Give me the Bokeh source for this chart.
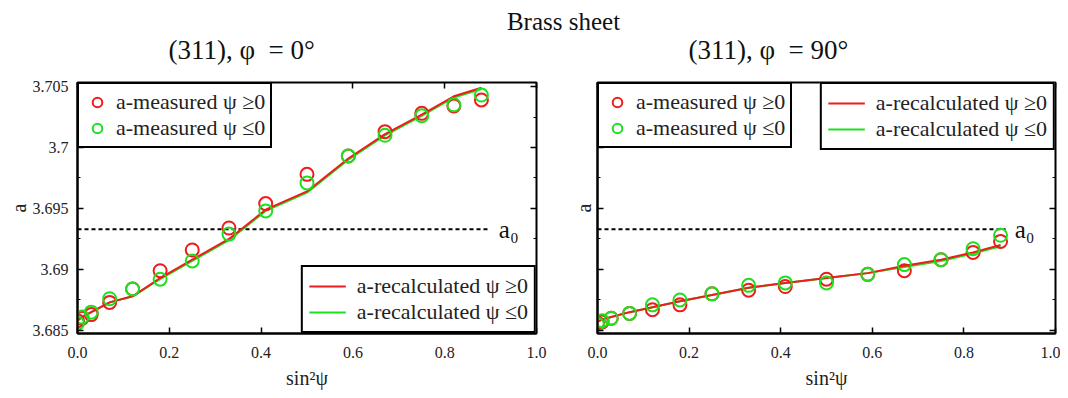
from bokeh.plotting import figure
from bokeh.models import (Legend, LegendItem, Label, Range1d, LinearAxis,
                          SingleIntervalTicker, CustomJSTickFormatter, ColumnDataSource)
from bokeh.core.properties import value
from bokeh.layouts import column, row
from bokeh.embed import file_html
from bokeh.resources import INLINE

# ---------------- data ----------------
main_title = ["Brass sheet"]
panel_titles = ["(311), φ\u00a0 = 0°", "(311), φ\u00a0 = 90°"]
x_label = "sin²ψ"
y_label = "a"
a0_label = "a₀"
a0 = 3.6933
a0_x_end = [0.898, 0.891]

sin2psi = [0.0, 0.01, 0.03, 0.07, 0.12, 0.18, 0.25, 0.33, 0.41, 0.50, 0.59, 0.67, 0.75, 0.82, 0.88]

# phi = 0
meas_pos_0 = [3.6858, 3.6860, 3.6863, 3.6873, 3.6884, 3.6899, 3.6916, 3.6934, 3.6954, 3.6978, 3.6993, 3.7013, 3.7028, 3.7034, 3.7039]
meas_neg_0 = [3.6856, 3.6861, 3.6865, 3.6876, 3.6884, 3.6892, 3.6907, 3.6929, 3.6948, 3.6971, 3.6993, 3.7010, 3.7026, 3.7035, 3.7043]
rec_pos_0 = [3.6858, 3.6861, 3.6865, 3.6873, 3.6878, 3.6893, 3.6908, 3.6925, 3.6949, 3.6964, 3.6991, 3.7011, 3.7027, 3.7042, 3.7049]
rec_neg_0 = [3.6858, 3.6861, 3.6865, 3.6873, 3.6878, 3.6892, 3.6907, 3.6924, 3.6948, 3.6963, 3.6990, 3.7010, 3.7026, 3.7041, 3.7048]

# phi = 90
meas_pos_90 = [3.6856, 3.6857, 3.6860, 3.6864, 3.6867, 3.6871, 3.6880, 3.6883, 3.6886, 3.6892, 3.6896, 3.6899, 3.6908, 3.6914, 3.6923]
meas_neg_90 = [3.6855, 3.6858, 3.6860, 3.6864, 3.6871, 3.6875, 3.6880, 3.6887, 3.6889, 3.6889, 3.6896, 3.6904, 3.6908, 3.6917, 3.6928]
rec_pos_90 = [3.6857, 3.6859, 3.6861, 3.6865, 3.6869, 3.6874, 3.6879, 3.6885, 3.6889, 3.6893, 3.6897, 3.6903, 3.6908, 3.6914, 3.6920]
rec_neg_90 = [3.6857, 3.6859, 3.6861, 3.6865, 3.6869, 3.6874, 3.6879, 3.6885, 3.6889, 3.6893, 3.6897, 3.6902, 3.6907, 3.6913, 3.6919]

leg_meas = ["a-measured ψ ≥0", "a-measured ψ ≤0"]
leg_rec = ["a-recalculated ψ ≥0", "a-recalculated ψ ≤0"]

RED = "#ee1c1c"
GREEN = "#1ee01e"
FONT = "Liberation Serif"

Y_RANGE = (3.68475, 3.70533)

EMPTY = CustomJSTickFormatter(code="return '';")

# header strip geometry (pixels of the header figure)
HEAD_W, HEAD_H = 1060, 68
MAIN_POS = ([563], [47.5])
SUB_POS = ([168, 688], [19, 19])


def make_panel(mp, mn, rp, rn, a0_end, show_ylabels, width, bl, br, layout_kind):
    p = figure(width=width, height=328, output_backend="svg", toolbar_location=None,
               x_range=Range1d(0, 1.0), y_range=Range1d(*Y_RANGE), title=None,
               min_border_left=bl, min_border_right=br, min_border_top=14, min_border_bottom=63)

    p.xgrid.visible = False
    p.ygrid.visible = False
    p.outline_line_color = "black"
    p.outline_line_width = 2
    p.background_fill_color = "white"
    p.border_fill_color = "white"

    p.xaxis.ticker = SingleIntervalTicker(interval=0.2, num_minor_ticks=0)
    p.yaxis.ticker = SingleIntervalTicker(interval=0.005, num_minor_ticks=2)
    p.xaxis.formatter = CustomJSTickFormatter(code="return tick.toFixed(1);")
    p.yaxis.formatter = CustomJSTickFormatter(code="return tick.toFixed(3).replace(/0+$/, '');")

    for ax in (p.xaxis, p.yaxis):
        ax.major_tick_in = 6
        ax.major_tick_out = 0
        ax.minor_tick_in = 3
        ax.minor_tick_out = 0
        ax.axis_line_width = 2
        ax.major_tick_line_width = 1.5
        ax.major_label_text_font = FONT
        ax.major_label_text_font_size = "16px"
        ax.major_label_text_color = "#222222"
        ax.axis_label_text_font = FONT
        ax.axis_label_text_font_style = "normal"
        ax.axis_label_text_color = "#222222"
        ax.axis_label_text_font_size = "20px"
    p.xaxis.axis_label = x_label
    p.yaxis.axis_label = y_label
    p.xaxis.major_label_standoff = 13
    p.xaxis.axis_label_standoff = 6
    if show_ylabels:
        p.yaxis.major_label_standoff = 9
        p.yaxis.axis_label_standoff = 0
    else:
        p.yaxis.formatter = EMPTY
        p.yaxis.major_label_text_font_size = "1px"
        p.yaxis.major_label_standoff = 0
        p.yaxis.axis_label_standoff = 3

    # mirror ticks on top / right
    top = LinearAxis(ticker=SingleIntervalTicker(interval=0.2, num_minor_ticks=0),
                     formatter=EMPTY, major_label_text_font_size="1px", major_label_standoff=0,
                     major_tick_in=6, major_tick_out=0, axis_line_color=None,
                     major_tick_line_width=1.5)
    right = LinearAxis(ticker=SingleIntervalTicker(interval=0.005, num_minor_ticks=2),
                       formatter=EMPTY, major_label_text_font_size="1px", major_label_standoff=0,
                       major_tick_in=6, major_tick_out=0, minor_tick_in=3, minor_tick_out=0,
                       axis_line_color=None, major_tick_line_width=1.5)
    p.add_layout(top, "above")
    p.add_layout(right, "right")

    src = ColumnDataSource(dict(x=sin2psi, mp=mp, mn=mn, rp=rp, rn=rn))

    # a0 reference
    p.segment(x0=[0], y0=[a0], x1=[a0_end], y1=[a0], line_color="black",
              line_width=2, line_dash="4 3")
    p.add_layout(Label(x=a0_end + 0.02, y=a0, text=a0_label, text_baseline="middle",
                       text_font=FONT, text_font_size="25px", text_color="#111111"))

    lg = p.line("x", "rn", source=src, line_color=GREEN, line_width=2)
    lr = p.line("x", "rp", source=src, line_color=RED, line_width=2)
    cr = p.scatter("x", "mp", source=src, marker="circle", size=13, fill_color=None,
                   line_color=RED, line_width=2)
    cg = p.scatter("x", "mn", source=src, marker="circle", size=13, fill_color=None,
                   line_color=GREEN, line_width=2)

    def style(lgd, pad, gw, st):
        lgd.margin = 0
        lgd.padding = pad
        lgd.spacing = 0
        lgd.label_height = 24
        lgd.glyph_height = 24
        lgd.glyph_width = gw
        lgd.label_standoff = st
        lgd.border_line_color = "black"
        lgd.border_line_alpha = 1
        lgd.border_line_width = 2
        lgd.background_fill_alpha = 1
        lgd.label_text_font = FONT
        lgd.label_text_font_size = "22px"
        lgd.label_text_color = "#222222"

    leg1 = Legend(items=[LegendItem(label=leg_meas[0], renderers=[cr]),
                         LegendItem(label=leg_meas[1], renderers=[cg])],
                  location="top_left")
    style(leg1, 5, 26, 6)
    leg2 = Legend(items=[LegendItem(label=leg_rec[0], renderers=[lr]),
                         LegendItem(label=leg_rec[1], renderers=[lg])],
                  location=layout_kind)
    style(leg2, 6, 37, 11)
    p.add_layout(leg1)
    p.add_layout(leg2)
    return p


p1 = make_panel(meas_pos_0, meas_neg_0, rec_pos_0, rec_neg_0,
                a0_x_end[0], True, 564, 77, 28, "bottom_right")
p2 = make_panel(meas_pos_90, meas_neg_90, rec_pos_90, rec_neg_90,
                a0_x_end[1], False, 496, 33, 5, "top_right")

# header strip with the overall title and the two panel titles
p0 = figure(width=HEAD_W, height=HEAD_H, output_backend="svg", toolbar_location=None,
            x_range=Range1d(0, HEAD_W), y_range=Range1d(0, HEAD_H),
            x_axis_type=None, y_axis_type=None, min_border=0, title=None)
p0.grid.visible = False
p0.outline_line_color = None
p0.text(x=MAIN_POS[0], y=MAIN_POS[1], text=main_title, text_align="center",
        text_baseline="middle", text_font=value(FONT), text_font_size="25px",
        text_color="#111111")
p0.text(x=SUB_POS[0], y=SUB_POS[1], text=panel_titles, text_align="left",
        text_baseline="middle", text_font=value(FONT), text_font_size="27px",
        text_color="#111111")

layout = column(p0, row(p1, p2, spacing=0), spacing=0)
open("out.html", "w").write(file_html(layout, INLINE))
